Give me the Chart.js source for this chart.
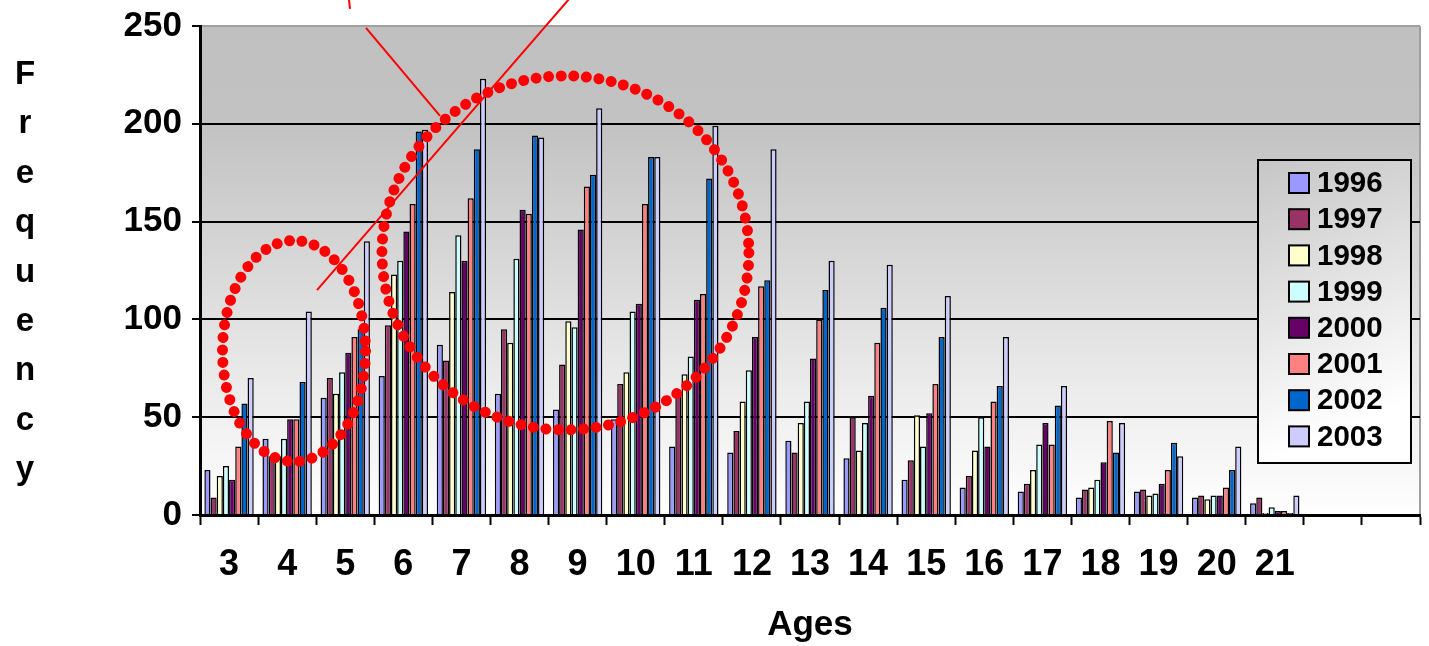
<!DOCTYPE html>
<html><head><meta charset="utf-8">
<script src="https://cdn.jsdelivr.net/npm/chart.js@4.4.1/dist/chart.umd.min.js"></script>
<style>html,body{margin:0;padding:0;background:#fff;overflow:hidden}#wrap{width:1429px;height:646px;position:relative}</style>
</head><body><div id="wrap"><canvas id="c" width="1429" height="646"></canvas></div>
<script>
// ---- data ----
const ages = ['3','4','5','6','7','8','9','10','11','12','13','14','15','16','17','18','19','20','21','',''];
const years = ['1996','1997','1998','1999','2000','2001','2002','2003'];
const v1996 = [23,39,60,71,87,62,54,49,35,32,38,29,18,14,12,9,12,9,6];
const v1997 = [9,30,70,97,79,95,77,67,63,43,32,50,28,20,16,13,13,10,9];
const v1998 = [20,30,62,123,114,88,99,73,72,58,47,33,51,33,23,14,10,8,1];
const v1999 = [25,39,73,130,143,131,96,104,81,74,58,47,35,50,36,18,11,10,4];
const v2000 = [18,49,83,145,130,156,146,108,110,91,80,61,52,35,47,27,16,10,2];
const v2001 = [35,49,91,159,162,154,168,159,113,117,100,88,67,58,36,48,23,14,2];
const v2002 = [57,68,95,196,187,194,174,183,172,120,115,106,91,66,56,32,37,23,1];
const v2003 = [70,104,140,197,223,193,208,183,199,187,130,128,112,91,66,47,30,35,10];
const seriesValues = [v1996,v1997,v1998,v1999,v2000,v2001,v2002,v2003];
const colors = ['#9999FF','#993366','#FFFFCC','#CCFFFF','#660066','#FF8080','#0066CC','#CCCCFF'];
const yTitleLetters = ['F','r','e','q','u','e','n','c','y'];
const xTitle = 'Ages';

// red hand-drawn annotations, in data units (category index, value)
const annoEllipses = [
  {cx:1.118, cy:83.8, rx:1.231, ry:56.5},
  {cx:5.79, cy:134, rx:3.158, ry:90.5}
];
const annoLines = [
  [2.065,263.3, 2.082,258.7],
  [2.357,249, 3.631,204],
  [1.514,115, 5.868,264.3]
];

const FONT = '"Liberation Sans", Arial, sans-serif';

const bgPlugin = {
  id:'bg',
  beforeDraw(chart){
    const {ctx, chartArea:a} = chart;
    const g = ctx.createLinearGradient(0,a.top,0,a.bottom);
    g.addColorStop(0,'#C0C0C0');
    g.addColorStop(0.2,'#C2C2C2');
    g.addColorStop(1,'#FFFFFF');
    ctx.save();
    ctx.fillStyle = g;
    ctx.fillRect(a.left,a.top,a.right-a.left,a.bottom-a.top);
    ctx.strokeStyle = '#A0A0A0';
    ctx.lineWidth = 2;
    ctx.beginPath();
    ctx.moveTo(a.right,a.top); ctx.lineTo(a.right,a.bottom);
    ctx.stroke();
    ctx.restore();
  }
};

const annoPlugin = {
  id:'anno',
  afterDatasetsDraw(chart){
    const {ctx} = chart;
    const xs = chart.scales.x, ys = chart.scales.y;
    ctx.save();
    ctx.strokeStyle = '#FF0000';
    ctx.lineWidth = 2;
    annoLines.forEach(l=>{
      ctx.beginPath();
      ctx.moveTo(xs.getPixelForValue(l[0]), ys.getPixelForValue(l[1]));
      ctx.lineTo(xs.getPixelForValue(l[2]), ys.getPixelForValue(l[3]));
      ctx.stroke();
    });
    ctx.lineWidth = 11;
    ctx.lineCap = 'round';
    ctx.setLineDash([0.01, 12.6]);
    annoEllipses.forEach(e=>{
      const px = xs.getPixelForValue(e.cx), py = ys.getPixelForValue(e.cy);
      const rx = Math.abs(xs.getPixelForValue(e.cx+e.rx)-px);
      const ry = Math.abs(ys.getPixelForValue(e.cy+e.ry)-py);
      ctx.beginPath();
      ctx.ellipse(px,py,rx,ry,0,0,Math.PI*2);
      ctx.stroke();
    });
    ctx.restore();
  }
};

const extrasPlugin = {
  id:'extras',
  afterDraw(chart){
    const {ctx} = chart;
    ctx.save();
    // vertical y-axis title
    ctx.fillStyle = '#000';
    ctx.font = 'bold 33px ' + FONT;
    ctx.textAlign = 'center';
    ctx.textBaseline = 'alphabetic';
    yTitleLetters.forEach((ch,i)=>{ ctx.fillText(ch, 25, 84 + i*49.4); });
    // legend
    const L=1258,T=160,R=1411,B=463;
    const g = ctx.createLinearGradient(L,T,L+110,T+260);
    g.addColorStop(0,'#C6C6C6');
    g.addColorStop(1,'#FFFFFF');
    ctx.fillStyle = g;
    ctx.fillRect(L,T,R-L,B-T);
    ctx.strokeStyle = '#000';
    ctx.lineWidth = 2;
    ctx.strokeRect(L,T,R-L,B-T);
    ctx.font = 'bold 29.5px ' + FONT;
    ctx.textAlign = 'left';
    ctx.textBaseline = 'middle';
    chart.data.datasets.forEach((ds,i)=>{
      const cy = 183 + i*36.2;
      ctx.fillStyle = ds.backgroundColor;
      ctx.fillRect(1289, cy-10, 20, 20);
      ctx.strokeStyle = '#000';
      ctx.lineWidth = 2;
      ctx.strokeRect(1289, cy-10, 20, 20);
      ctx.fillStyle = '#000';
      ctx.fillText(ds.label, 1317, cy+1);
    });
    ctx.restore();
  }
};

new Chart(document.getElementById('c'), {
  type:'bar',
  data:{
    labels: ages,
    datasets: years.map((y,i)=>({
      label:y,
      data:seriesValues[i],
      backgroundColor:colors[i],
      borderColor:'#000',
      borderWidth:1.5,
      borderSkipped:'bottom',
      barPercentage:1.0,
      categoryPercentage:0.85
    }))
  },
  options:{
    responsive:false,
    devicePixelRatio:1,
    animation:false,
    layout:{padding:{left:0,right:9,top:26,bottom:0}},
    plugins:{legend:{display:false},tooltip:{enabled:false},title:{display:false}},
    scales:{
      x:{
        grid:{display:true,drawOnChartArea:false,drawTicks:true,tickLength:10,tickColor:'#000',tickWidth:2,offset:true},
        border:{display:true,color:'#000',width:3},
        ticks:{color:'#000',font:{family:FONT,size:36,weight:'bold'},padding:18,maxRotation:0,autoSkip:false},
        title:{display:true,text:xTitle,color:'#000',font:{family:FONT,size:35,weight:'bold'},padding:{top:0,bottom:0}},
        afterFit(s){ s.height = 131; s.paddingLeft = 0; s.paddingRight = 0; }
      },
      y:{
        min:0,max:250,
        grid:{color:(c)=> c.tick && c.tick.value===250 ? '#A0A0A0' : '#000', lineWidth:2, tickLength:8, tickColor:'#000', tickWidth:2},
        border:{display:true,color:'#000',width:3},
        ticks:{stepSize:50,color:'#000',font:{family:FONT,size:35,weight:'bold'},padding:10},
        afterFit(s){ s.width = 200; s.paddingTop = 0; s.paddingBottom = 0; }
      }
    }
  },
  plugins:[bgPlugin, annoPlugin, extrasPlugin]
});
</script></body></html>
